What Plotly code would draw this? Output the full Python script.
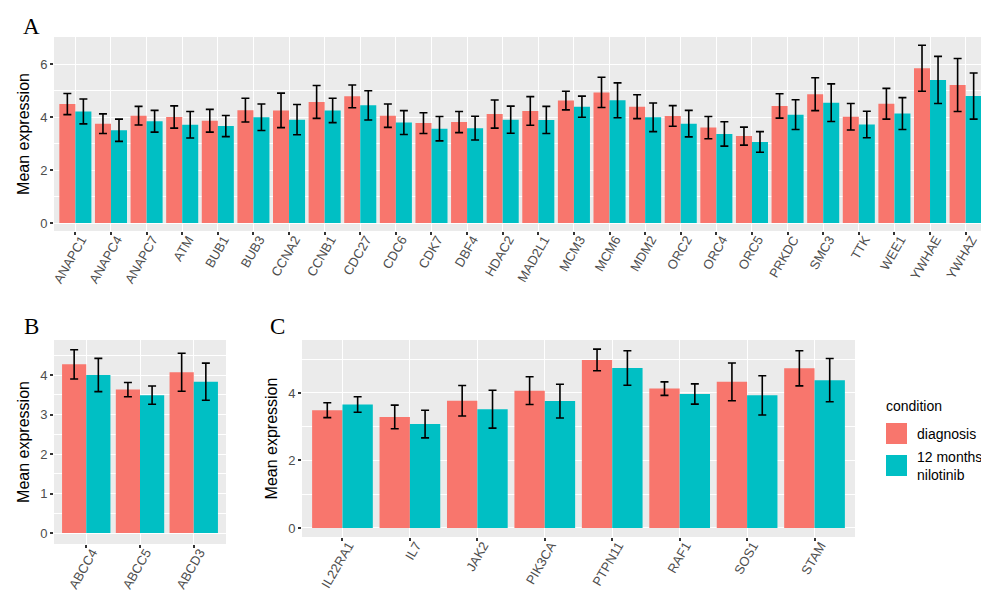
import plotly.graph_objects as go

# ---------------- data ----------------
genes_A = ["ANAPC1", "ANAPC4", "ANAPC7", "ATM", "BUB1", "BUB3", "CCNA2", "CCNB1", "CDC27",
           "CDC6", "CDK7", "DBF4", "HDAC2", "MAD2L1", "MCM3", "MCM6", "MDM2", "ORC2",
           "ORC4", "ORC5", "PRKDC", "SMC3", "TTK", "WEE1", "YWHAE", "YWHAZ"]
diag_A = [4.49, 3.75, 4.05, 4.00, 3.86, 4.26, 4.25, 4.57, 4.78, 4.05, 3.77, 3.81, 4.11,
          4.23, 4.62, 4.93, 4.39, 4.04, 3.60, 3.28, 4.42, 4.86, 4.01, 4.50, 5.84, 5.21]
diag_A_sd = [0.40, 0.37, 0.35, 0.42, 0.43, 0.45, 0.65, 0.62, 0.43, 0.44, 0.39, 0.40, 0.53,
             0.54, 0.35, 0.57, 0.45, 0.39, 0.42, 0.34, 0.46, 0.62, 0.50, 0.58, 0.87, 1.00]
nilo_A = [4.21, 3.50, 3.84, 3.71, 3.66, 3.99, 3.90, 4.25, 4.44, 3.79, 3.56, 3.58, 3.90,
          3.89, 4.39, 4.63, 3.99, 3.75, 3.36, 3.06, 4.09, 4.54, 3.72, 4.13, 5.40, 4.79]
nilo_A_sd = [0.47, 0.42, 0.41, 0.50, 0.40, 0.50, 0.57, 0.46, 0.55, 0.45, 0.46, 0.45, 0.51,
             0.51, 0.40, 0.66, 0.54, 0.50, 0.46, 0.39, 0.56, 0.71, 0.50, 0.60, 0.89, 0.87]

genes_B = ["ABCC4", "ABCC5", "ABCD3"]
diag_B = [4.27, 3.63, 4.07]
diag_B_sd = [0.37, 0.18, 0.48]
nilo_B = [4.00, 3.49, 3.83]
nilo_B_sd = [0.42, 0.23, 0.47]

genes_C = ["IL22RA1", "IL7", "JAK2", "PIK3CA", "PTPN11", "RAF1", "SOS1", "STAM"]
diag_C = [3.49, 3.29, 3.77, 4.07, 4.98, 4.13, 4.33, 4.73]
diag_C_sd = [0.22, 0.35, 0.45, 0.41, 0.32, 0.20, 0.56, 0.52]
nilo_C = [3.66, 3.08, 3.52, 3.76, 4.74, 3.97, 3.93, 4.38]
nilo_C_sd = [0.23, 0.41, 0.56, 0.50, 0.51, 0.30, 0.58, 0.64]

legend_title = "condition"
conditions = ["diagnosis", "12 months nilotinib"]
legend_labels = ["diagnosis", "12 months<br>nilotinib"]
colors = ["#F8766D", "#00BFC4"]

# ---------------- layout helpers ----------------
W, H = 989, 590
def fx(px):
    return px / W
def fy(py):
    return 1 - py / H

SANS = "Liberation Sans, Arial, Helvetica, sans-serif"
SERIF = "Liberation Serif, Times New Roman, serif"

panels = [
    # genes, series, x-axis, y-axis, x px domain, y px domain, y range, dtick, minor
    (genes_A, [(diag_A, diag_A_sd), (nilo_A, nilo_A_sd)], "x", "y",
     (46, 979), (29, 223), (-0.302, 7.02), 2, 1),
    (genes_B, [(diag_B, diag_B_sd), (nilo_B, nilo_B_sd)], "x2", "y2",
     (46, 218), (332, 536), (-0.278, 4.886), 1, 0.5),
    (genes_C, [(diag_C, diag_C_sd), (nilo_C, nilo_C_sd)], "x3", "y3",
     (294, 847), (332, 529), (-0.267, 5.57), 2, 1),
]

fig = go.Figure()
layout_axes = {}
for pi, (genes, series, xa, ya, xd, yd, yr, dt, mn) in enumerate(panels):
    for si, (vals, sds) in enumerate(series):
        fig.add_trace(go.Bar(
            x=genes, y=vals, name=conditions[si],
            marker=dict(color=colors[si], line=dict(width=0)),
            error_y=dict(type="data", array=sds, visible=True,
                         color="black", thickness=1.6, width=4),
            offsetgroup=str(si), legendgroup=str(si),
            showlegend=False, xaxis=xa, yaxis=ya,
        ))
    xkey = "xaxis" if xa == "x" else "xaxis" + xa[1:]
    ykey = "yaxis" if ya == "y" else "yaxis" + ya[1:]
    layout_axes[xkey] = dict(
        domain=[fx(xd[0]), fx(xd[1])], anchor=ya,
        range=[-0.6, len(genes) - 0.4],
        showgrid=True, gridcolor="white", gridwidth=1.3,
        ticks="outside", ticklen=3, tickwidth=1.5, tickcolor="#333333",
        tickangle=-60, ticklabelstandoff=-8, ticklabelshift=6,
        tickfont=dict(family=SANS, size=13, color="#4D4D4D"),
        showline=False, zeroline=False, automargin=False,
    )
    layout_axes[ykey] = dict(
        domain=[fy(yd[1]), fy(yd[0])], anchor=xa,
        range=list(yr), dtick=dt, tick0=0,
        showgrid=True, gridcolor="white", gridwidth=1.3,
        minor=dict(dtick=mn, tick0=0, showgrid=True, gridcolor="white", gridwidth=0.6),
        ticks="outside", ticklen=3, tickwidth=1.5, tickcolor="#333333",
        tickfont=dict(family=SANS, size=13, color="#4D4D4D"),
        title=dict(text="Mean expression", font=dict(family=SANS, size=16, color="black"),
                   standoff=6),
        showline=False, zeroline=False, automargin=False,
    )

# ---------------- legend (drawn as key boxes + labels) ----------------
shapes = []
annotations = [
    dict(text=legend_title, x=fx(876), y=fy(398), xref="paper", yref="paper",
         xanchor="left", yanchor="middle", showarrow=False,
         font=dict(family=SANS, size=14, color="black")),
]
key_tops = [415, 447]
for ci, col in enumerate(colors):
    t = key_tops[ci]
    shapes.append(dict(type="rect", xref="paper", yref="paper",
                       x0=fx(878), x1=fx(899), y0=fy(t + 21), y1=fy(t),
                       fillcolor=col, line=dict(width=0), layer="above"))
    annotations.append(dict(text=legend_labels[ci], x=fx(907), y=fy(t + 10.5),
                            xref="paper", yref="paper", align="left",
                            xanchor="left", yanchor="middle", showarrow=False,
                            font=dict(family=SANS, size=14, color="black")))

# panel letters
for letter, cx, cy in [("A", 23.5, 18.5), ("B", 23.5, 318.5), ("C", 269, 318)]:
    annotations.append(dict(text=letter, x=fx(cx), y=fy(cy), xref="paper", yref="paper",
                            xanchor="center", yanchor="middle", showarrow=False,
                            font=dict(family=SERIF, size=23, color="black")))

fig.update_layout(
    width=W, height=H,
    margin=dict(l=0, r=0, t=0, b=0),
    paper_bgcolor="white", plot_bgcolor="#EBEBEB",
    barmode="group", bargap=0.1, bargroupgap=0,
    showlegend=False,
    shapes=shapes,
    annotations=annotations,
    **layout_axes,
)

fig.write_html("out.html")
